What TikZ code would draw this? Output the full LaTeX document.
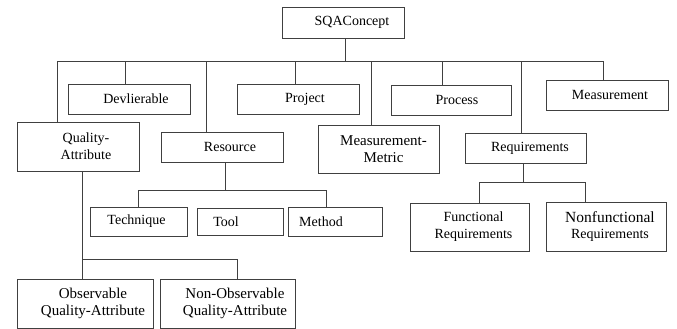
\documentclass[tikz,border=0pt]{standalone}
\usepackage{fontspec}
\setmainfont{Liberation Serif}
\usepackage{tikz}

\tikzset{
  box/.style={draw=black!75, line width=0.8pt, inner sep=0pt, minimum height=30pt},
  txt/.style={font=\fontsize{14}{16.8}\selectfont, align=center, text=black},
  big/.style={font=\fontsize{15}{17}\selectfont, align=center, text=black},
  link/.style={draw=black!75, line width=0.8pt},
}

\begin{document}
\begin{tikzpicture}[x=1pt, y=-1pt]
        \useasboundingbox (0,0) rectangle (677,329);

        % Root
        \node[box, minimum width=122pt, minimum height=31pt, label={[txt, xshift=9pt]center:SQAConcept}] (top) at (343,22.5) {};

        % First level
        \node[box, minimum width=122pt, label={[txt, xshift=7pt]center:Devlierable}] (deliv) at (129,99) {};
        \node[box, minimum width=122pt, label={[txt, xshift=7pt]center:Project}] (project) at (298,99) {};
        \node[box, minimum width=120pt, label={[txt, xshift=6pt]center:Process}] (process) at (451,100) {};
        \node[box, minimum width=122pt, label={[txt, xshift=3pt]center:Measurement}] (measure) at (607,95) {};
        \node[box, minimum width=122pt, minimum height=49pt, label={[txt, xshift=8pt]center:Quality-\\Attribute}] (qattr) at (78,146.5) {};
        \node[box, minimum width=122pt, label={[txt, xshift=8pt]center:Resource}] (resource) at (222,147) {};
        \node[box, minimum width=121pt, minimum height=48pt, label={[big, xshift=5pt]center:Measurement-\\Metric}] (metric) at (378.5,149) {};
        \node[box, minimum width=121pt, label={[txt, xshift=4.5pt]center:Requirements}] (reqs) at (525.5,148) {};

        % Resource children
        \node[box, minimum width=97pt, minimum height=29pt, label={[txt, xshift=-2pt]center:Technique}] (technique) at (138.5,221.5) {};
        \node[box, minimum width=86pt, minimum height=27pt, label={[txt, xshift=-14pt]center:Tool}] (tool) at (240,221.5) {};
        \node[box, minimum width=94pt, minimum height=29pt, label={[txt, xshift=-14pt]center:Method}] (method) at (335,221.5) {};

        % Quality-Attribute children
        \node[box, minimum width=136pt, minimum height=49pt, label={[big, xshift=8pt]center:Observable\\Quality-Attribute}] (observ) at (85,303.5) {};
        \node[box, minimum width=135pt, minimum height=49pt, label={[big, xshift=7.5pt]center:Non-Observable\\Quality-Attribute}] (nonobs) at (227.5,303.5) {};

        % Requirements children
        \node[box, minimum width=119pt, minimum height=48pt, label={[txt, xshift=4pt]center:Functional\\Requirements}] (func) at (469.5,227) {};
        \node[box, minimum width=120pt, minimum height=49pt, label={[txt, xshift=4pt]center:{\fontsize{15.5}{17}\selectfont Nonfunctional}\\Requirements}] (nonfunc) at (606,226.5) {};

        % Main bus
        \coordinate (bus) at (345,61);
        \draw[link] ([xshift=2pt]top.south) -- (bus);
        \foreach \n/\dx in {qattr/-21, deliv/-4, resource/-16, project/-3, metric/-7.5, process/-9, reqs/-4.5, measure/-4}
          \draw[link] (bus) -| ([xshift=\dx pt]\n.north);

        % Resource bus
        \coordinate (rbus) at (225,190);
        \draw[link] ([xshift=3pt]resource.south) -- (rbus);
        \draw[link] (rbus) -| (technique.north);
        \draw[link] (rbus) -| ([xshift=-9pt]method.north);

        % Quality bus
        \coordinate (qbus) at (82,259);
        \draw[link] ([xshift=4pt]qattr.south) -- ([xshift=-3pt]observ.north);
        \draw[link] (qbus) -| ([xshift=9.5pt]nonobs.north);

        % Requirements bus
        \coordinate (qrbus) at (523,182);
        \draw[link] ([xshift=-2.5pt]reqs.south) -- (qrbus);
        \draw[link] (qrbus) -| ([xshift=9.5pt]func.north);
        \draw[link] (qrbus) -| ([xshift=-21pt]nonfunc.north);
    \end{tikzpicture}
\end{document}
